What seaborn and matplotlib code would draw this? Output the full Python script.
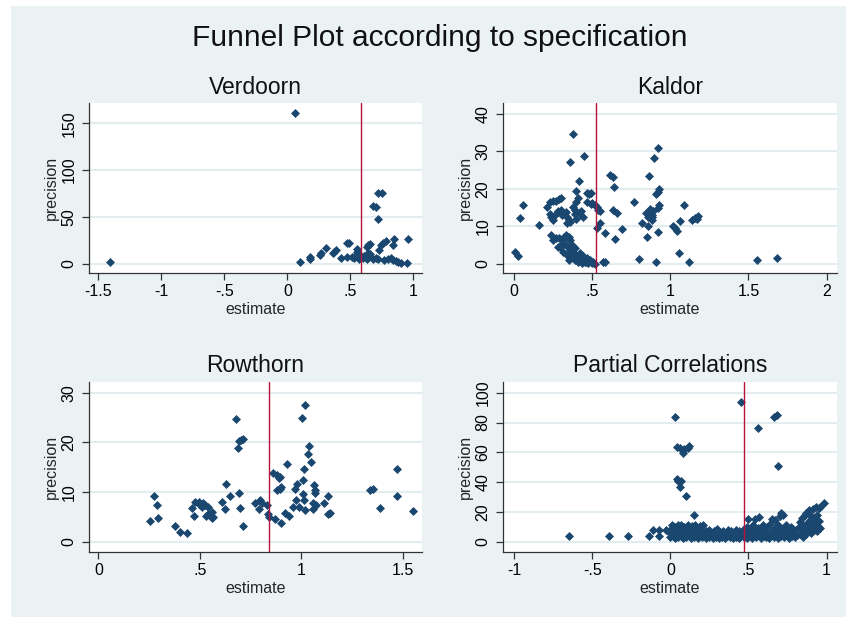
import matplotlib
matplotlib.use("Agg")
import matplotlib.pyplot as plt
from matplotlib.patches import Rectangle
import seaborn as sns
import pandas as pd

# funnel plot, four specifications

verdoorn = [
    (-1.41, 2.5), (0.06, 160.7), (0.10, 2.5), (0.18, 5.5), (0.18, 7.5),
    (0.26, 9.5), (0.27, 11.5), (0.31, 16.7), (0.36, 12.0), (0.37, 13.0),
    (0.39, 14.5), (0.43, 6.7), (0.47, 22.0), (0.49, 22.5), (0.47, 7.0),
    (0.51, 7.2), (0.53, 6.0), (0.54, 9.0), (0.55, 15.5), (0.56, 11.0),
    (0.56, 7.0), (0.57, 5.5), (0.58, 9.5), (0.55, 12.5), (0.60, 6.0),
    (0.61, 8.5), (0.63, 18.0), (0.64, 20.0), (0.66, 21.0), (0.63, 5.5),
    (0.65, 7.0), (0.66, 10.5), (0.64, 12.0), (0.68, 5.0), (0.70, 6.5),
    (0.72, 5.5), (0.68, 61.5), (0.70, 60.5), (0.72, 76.0), (0.75, 76.0),
    (0.72, 47.6), (0.73, 15.0), (0.74, 20.0), (0.76, 22.0), (0.78, 25.0),
    (0.77, 4.5), (0.80, 5.0), (0.82, 6.5), (0.84, 4.0), (0.84, 20.5),
    (0.85, 27.0), (0.86, 3.0), (0.88, 2.0), (0.90, 1.5), (0.95, 1.5),
    (0.96, 26.6),
]

kaldor = [
    (0.006, 3.3), (0.028, 2.1), (0.038, 12.2), (0.06, 15.7), (0.16, 10.4),
    (0.21, 15.1), (0.23, 16.6), (0.25, 16.8), (0.27, 16.9), (0.29, 17.2),
    (0.30, 17.5), (0.23, 13.2), (0.24, 12.4), (0.25, 11.8), (0.26, 13.0),
    (0.28, 14.2), (0.30, 14.4), (0.31, 13.0), (0.33, 13.8), (0.34, 12.6),
    (0.24, 7.7), (0.25, 6.4), (0.27, 6.8), (0.29, 7.0), (0.31, 6.6),
    (0.32, 7.3), (0.33, 7.6), (0.34, 6.8), (0.35, 7.2), (0.36, 6.5),
    (0.28, 4.6), (0.30, 5.0), (0.32, 5.4), (0.34, 4.8), (0.36, 3.8),
    (0.37, 5.0), (0.34, 11.0), (0.35, 11.7), (0.36, 11.3), (0.358, 27.3),
    (0.38, 34.7), (0.38, 15.2), (0.39, 14.4), (0.40, 16.4), (0.41, 17.6),
    (0.39, 13.2), (0.40, 12.0), (0.40, 19.5), (0.416, 22.0), (0.42, 13.3),
    (0.43, 14.0), (0.44, 12.5), (0.45, 28.8), (0.47, 18.8), (0.48, 18.6),
    (0.49, 18.8), (0.47, 16.6), (0.49, 15.9), (0.50, 16.3), (0.52, 15.7),
    (0.53, 15.2), (0.54, 14.4), (0.55, 14.0), (0.53, 9.6), (0.55, 11.0),
    (0.58, 8.3), (0.57, 0.5), (0.58, 0.6), (0.294, 4.6), (0.316, 3.3),
    (0.337, 2.4), (0.358, 2.0), (0.369, 2.8), (0.38, 1.5), (0.39, 1.1),
    (0.40, 2.4), (0.41, 0.6), (0.422, 1.6), (0.433, 0.2), (0.443, 1.1),
    (0.454, 0.6), (0.465, 1.5), (0.475, 0.2), (0.486, 1.1), (0.497, 0.35),
    (0.507, 0.6), (0.518, 0.0), (0.35, 1.0), (0.37, 3.5), (0.39, 4.2),
    (0.42, 3.0), (0.44, 2.2), (0.46, 0.4), (0.614, 23.7), (0.635, 23.1),
    (0.64, 20.5), (0.635, 14.5), (0.66, 13.5), (0.645, 6.7), (0.69, 9.3),
    (0.77, 16.6), (0.80, 1.2), (0.82, 11.0), (0.845, 13.6), (0.86, 12.4),
    (0.87, 14.6), (0.88, 13.0), (0.885, 12.6), (0.89, 14.0), (0.865, 13.8),
    (0.853, 7.3), (0.86, 10.0), (0.88, 11.7), (0.866, 23.5), (0.896, 28.2),
    (0.923, 30.9), (0.91, 18.7), (0.92, 19.3), (0.93, 20.0), (0.92, 14.8),
    (0.93, 15.7), (0.923, 8.6), (0.91, 0.5), (1.02, 10.1), (1.03, 9.5),
    (1.04, 8.9), (1.058, 3.0), (1.062, 11.5), (1.088, 15.7), (1.12, 0.5),
    (1.14, 11.6), (1.16, 12.2), (1.17, 12.0), (1.18, 12.7), (1.553, 1.07),
    (1.68, 1.5),
]

rowthorn = [
    (0.255, 4.2), (0.276, 9.2), (0.29, 7.4), (0.296, 4.7), (0.378, 3.2),
    (0.40, 2.0), (0.435, 1.8), (0.46, 6.7), (0.473, 5.2), (0.478, 8.0),
    (0.495, 8.0), (0.503, 7.4), (0.518, 7.7), (0.51, 7.0), (0.526, 7.4),
    (0.542, 7.0), (0.53, 5.2), (0.542, 5.5), (0.558, 4.7), (0.56, 6.0),
    (0.566, 5.0), (0.61, 8.0), (0.625, 6.5), (0.63, 11.6), (0.65, 9.2),
    (0.677, 24.8), (0.69, 18.8), (0.695, 20.3), (0.705, 20.4), (0.715, 20.6),
    (0.693, 9.9), (0.70, 6.8), (0.715, 3.2), (0.77, 7.8), (0.79, 6.5),
    (0.795, 8.4), (0.805, 7.8), (0.83, 7.4), (0.838, 5.6), (0.843, 5.0),
    (0.863, 13.8), (0.88, 13.4), (0.87, 4.5), (0.89, 12.8), (0.895, 13.0),
    (0.88, 10.4), (0.895, 10.7), (0.90, 11.0), (0.90, 3.8), (0.93, 15.6),
    (0.92, 5.7), (0.94, 5.2), (0.958, 7.0), (0.97, 10.7), (0.98, 11.7),
    (0.974, 8.4), (0.99, 7.0), (1.002, 25.0), (1.01, 12.4), (1.015, 14.6),
    (1.01, 9.7), (1.012, 8.4), (1.02, 27.5), (1.02, 6.4), (1.035, 17.6),
    (1.04, 19.3), (1.05, 16.1), (1.056, 7.8), (1.056, 6.5), (1.065, 11.4),
    (1.07, 10.5), (1.07, 9.9), (1.073, 7.4), (1.11, 7.8), (1.13, 9.2),
    (1.13, 5.5), (1.14, 5.7), (1.34, 10.5), (1.355, 10.7), (1.39, 6.7),
    (1.47, 14.6), (1.47, 9.2), (1.55, 6.2),
]

partial_corr = [
    (-0.65, 3.8), (-0.39, 3.8), (-0.27, 3.8), (-0.135, 3.8), (-0.11, 7.8),
    (-0.07, 3.8), (-0.07, 7.8), (-0.03, 7.8),
    (0.03, 84.0), (0.04, 63.5), (0.06, 63.0), (0.08, 59.7), (0.09, 62.5),
    (0.11, 63.0), (0.12, 64.0), (0.04, 42.0), (0.05, 41.0), (0.07, 40.5),
    (0.06, 36.5), (0.10, 30.6), (0.15, 18.0), (0.45, 93.5), (0.56, 76.0),
    (0.66, 84.0), (0.68, 85.0), (0.69, 50.8),
    (0.00, 3.0), (0.00, 6.0), (0.01, 9.0), (0.01, 11.0), (0.02, 4.0),
    (0.02, 7.0), (0.03, 10.0), (0.03, 2.5), (0.04, 5.0), (0.04, 8.0),
    (0.05, 11.0), (0.05, 3.5), (0.06, 6.5), (0.06, 9.5), (0.07, 4.0),
    (0.07, 11.0), (0.08, 7.0), (0.08, 2.5), (0.09, 5.5), (0.09, 10.0),
    (0.10, 8.5), (0.10, 3.0), (0.11, 6.0), (0.11, 11.5), (0.12, 4.5),
    (0.12, 9.0), (0.13, 7.5), (0.13, 2.5), (0.14, 10.5), (0.14, 5.0),
    (0.15, 8.0), (0.15, 3.5), (0.16, 6.5), (0.16, 11.0), (0.17, 4.0),
    (0.17, 9.0), (0.18, 7.0), (0.18, 2.5), (0.19, 5.5), (0.19, 10.5),
    (0.20, 8.0), (0.20, 3.5), (0.21, 11.5), (0.21, 6.0),
    (0.22, 4.0), (0.23, 7.0), (0.23, 2.5), (0.24, 5.5), (0.25, 3.5),
    (0.25, 8.0), (0.26, 6.0), (0.27, 2.5), (0.27, 4.5), (0.28, 7.0),
    (0.29, 3.5), (0.30, 5.5), (0.30, 8.5), (0.31, 2.5), (0.32, 6.5),
    (0.32, 4.0), (0.33, 3.0), (0.34, 7.5), (0.34, 5.0), (0.35, 2.5),
    (0.36, 6.0), (0.36, 4.0), (0.37, 8.0), (0.38, 3.0), (0.38, 5.5),
    (0.39, 7.0), (0.40, 2.5), (0.40, 4.5), (0.41, 6.5), (0.42, 3.5),
    (0.42, 8.0), (0.43, 5.0), (0.44, 2.5), (0.44, 7.0), (0.45, 4.0),
    (0.46, 6.0),
    (0.47, 3.0), (0.47, 8.5), (0.48, 5.0), (0.49, 2.5), (0.49, 10.0),
    (0.50, 6.5), (0.50, 15.5), (0.51, 4.0), (0.52, 8.0), (0.52, 2.5),
    (0.53, 11.0), (0.54, 5.5), (0.54, 15.0), (0.55, 3.0), (0.55, 7.5),
    (0.56, 9.5), (0.57, 4.5), (0.57, 16.5), (0.58, 2.5), (0.58, 6.5),
    (0.59, 11.5), (0.60, 4.0), (0.60, 8.5), (0.61, 3.0), (0.62, 6.0),
    (0.62, 10.0), (0.63, 2.5), (0.64, 5.0), (0.64, 12.0), (0.65, 7.5),
    (0.65, 15.0), (0.66, 3.5), (0.67, 9.0), (0.67, 14.5), (0.68, 5.5),
    (0.69, 2.5), (0.69, 11.0), (0.70, 7.0), (0.70, 17.5), (0.71, 4.0),
    (0.71, 19.0), (0.72, 9.5), (0.72, 18.0), (0.73, 3.0), (0.73, 6.0),
    (0.74, 11.5), (0.75, 4.5), (0.75, 8.0), (0.76, 2.5), (0.77, 6.5),
    (0.77, 10.0), (0.78, 4.0), (0.79, 8.0), (0.80, 3.0),
    (0.81, 4.5), (0.82, 10.0), (0.83, 5.5), (0.83, 13.0), (0.84, 7.0),
    (0.84, 16.0), (0.85, 3.5), (0.85, 11.0), (0.86, 8.0), (0.86, 18.0),
    (0.87, 19.5), (0.87, 5.0), (0.88, 12.5), (0.88, 8.5), (0.89, 14.0),
    (0.89, 21.0), (0.90, 6.0), (0.90, 17.0), (0.91, 22.0), (0.91, 10.5),
    (0.92, 15.0), (0.92, 8.0), (0.93, 23.5), (0.93, 12.0), (0.94, 18.0),
    (0.94, 7.5), (0.95, 22.5), (0.95, 14.0), (0.96, 23.5), (0.96, 9.0),
    (0.98, 25.7),
]

# mean estimate per specification (red reference line)
ref_lines = {'Verdoorn': 0.585, 'Kaldor': 0.525, 'Rowthorn': 0.843,
             'Partial Correlations': 0.4715}

verdoorn_xticks = [-1.5, -1, -0.5, 0, 0.5, 1]
kaldor_xticks = [0, 0.5, 1, 1.5, 2]
rowthorn_xticks = [0, 0.5, 1, 1.5]
partial_xticks = [-1, -0.5, 0, 0.5, 1]
verdoorn_yticks = [0, 50, 100, 150]
kaldor_yticks = [0, 10, 20, 30, 40]
rowthorn_yticks = [0, 10, 20, 30]
partial_yticks = [0, 20, 40, 60, 80, 100]

NAVY = '#1a476f'
RED = '#b8123c'
BG = '#eaf2f3'
GRID = '#e3ecef'
AXC = '#333333'

sns.set_theme(style="white")
plt.rcParams['font.family'] = ['Liberation Sans', 'DejaVu Sans']

W, H = 855, 625


def stata_fmt(v):
    s = f"{v:g}"
    return s.replace("0.", ".")


def draw_panel(fig, box, pts, title, xlim, ylim, xticks, yticks):
    l, t, r, b = box
    w, h = r - l, b - t
    ax = fig.add_axes([l / W, 1 - b / H, w / W, h / H])
    ax.set_facecolor('white')
    df = pd.DataFrame(pts, columns=['estimate', 'precision'])

    for y in yticks:
        ax.axhline(y, color=GRID, lw=1.5, zorder=0)
    sns.scatterplot(data=df, x='estimate', y='precision', ax=ax, marker='D',
                    s=21, color=NAVY, linewidth=0, zorder=3)
    ax.axvline(ref_lines[title], color=RED, lw=1.0, zorder=4)

    ax.set_xlim(xlim)
    ax.set_ylim(ylim)
    ax.set_xticks(xticks)
    ax.set_xticklabels([stata_fmt(v) for v in xticks])
    ax.set_yticks(yticks)
    ax.set_yticklabels([stata_fmt(v) for v in yticks], rotation=90, va='center')

    for side in ['top', 'right']:
        ax.spines[side].set_visible(False)
    for side in ['left', 'bottom']:
        ax.spines[side].set_color(AXC)
        ax.spines[side].set_linewidth(0.9)
    ax.tick_params(axis='both', which='major', length=5, width=0.9, color=AXC,
                   labelsize=11.5, labelcolor='black', bottom=True, left=True)
    ax.tick_params(axis='x', pad=3)
    ax.tick_params(axis='y', pad=4)
    ax.set_xlabel('estimate', fontsize=11.5)
    ax.set_ylabel('precision', fontsize=11.5)
    # pin the axis titles in pixel offsets from the plot region
    ax.xaxis.set_label_coords(0.5, -29 / h)
    ax.yaxis.set_label_coords(-30 / w, 0.5)

    fig.text((l + r) / 2 / W, 1 - (t - 16) / H, title, ha='center', va='center',
             fontsize=16.5, color='#111111')
    return ax


fig = plt.figure(figsize=(W / 100, H / 100), dpi=100, facecolor='white')
fig.add_artist(Rectangle((11 / W, 1 - 617 / H), (846 - 11) / W, (617 - 6) / H,
                         transform=fig.transFigure, facecolor=BG,
                         edgecolor='none', zorder=-1))

draw_panel(fig, (89, 103, 422, 273), verdoorn, 'Verdoorn',
           (-1.574, 1.069), (-9.6, 171.6), verdoorn_xticks, verdoorn_yticks)
draw_panel(fig, (503, 103, 837, 273), kaldor, 'Kaldor',
           (-0.07, 2.066), (-2.4, 42.9), kaldor_xticks, kaldor_yticks)
draw_panel(fig, (89, 382, 422, 552), rowthorn, 'Rowthorn',
           (-0.046, 1.595), (-2.07, 32.15), rowthorn_xticks, rowthorn_yticks)
draw_panel(fig, (503, 382, 837, 552), partial_corr, 'Partial Correlations',
           (-1.07, 1.066), (-6.9, 107.2), partial_xticks, partial_yticks)

fig.text(440 / W, 1 - 38 / H, 'Funnel Plot according to specification',
         ha='center', va='center', fontsize=21.5, color='#111111')

fig.savefig('out.png', dpi=100, facecolor=fig.get_facecolor())
